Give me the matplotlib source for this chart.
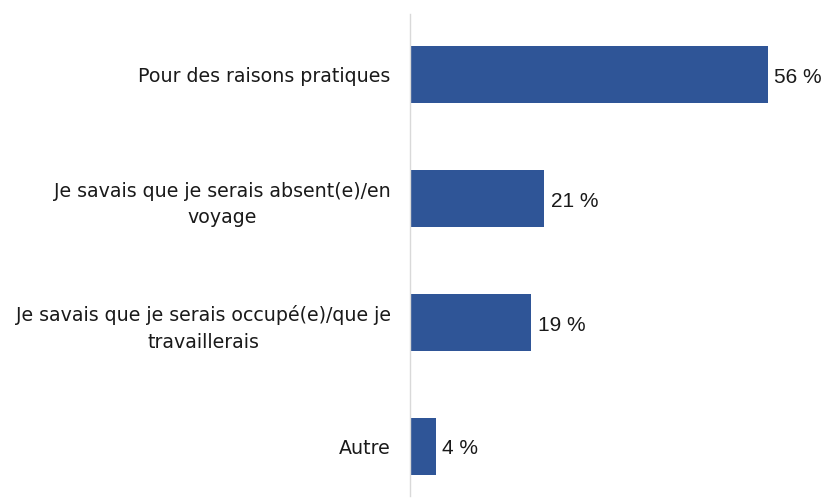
import matplotlib.pyplot as plt

categories = [
    "Pour des raisons pratiques",
    "Je savais que je serais absent(e)/en\nvoyage",
    "Je savais que je serais occupé(e)/que je\ntravaillerais",
    "Autre",
]
values = [56, 21, 19, 4]

plt.rcParams['font.family'] = ['Liberation Sans', 'DejaVu Sans']

fig = plt.figure(figsize=(8.32, 4.99), dpi=100)
ax = fig.add_axes([0.4928, 0.006, 0.5072, 0.966])

ypos = list(range(len(categories)))
bars = ax.barh(ypos, values, height=0.46, color="#2f5597")

for y, v in zip(ypos, values):
    ax.text(v + 1.0, y + 0.02, f"{v} %", va="center", ha="left", fontsize=15,
            family="Liberation Sans", color="#1a1a1a")

ax.set_yticks(ypos)
ax.set_yticklabels(categories, fontsize=13.7, color="#1a1a1a", family="DejaVu Sans",
                   multialignment="center", linespacing=1.5)
ax.tick_params(axis="y", length=0, pad=14)
ax.set_xticks([])
ax.set_xlim(0, 66)
ax.set_ylim(3.4, -0.49)

for s in ["top", "right", "bottom"]:
    ax.spines[s].set_visible(False)
ax.spines["left"].set_color("#d9d9d9")
ax.spines["left"].set_linewidth(1)

fig.savefig("out.png", dpi=100)
